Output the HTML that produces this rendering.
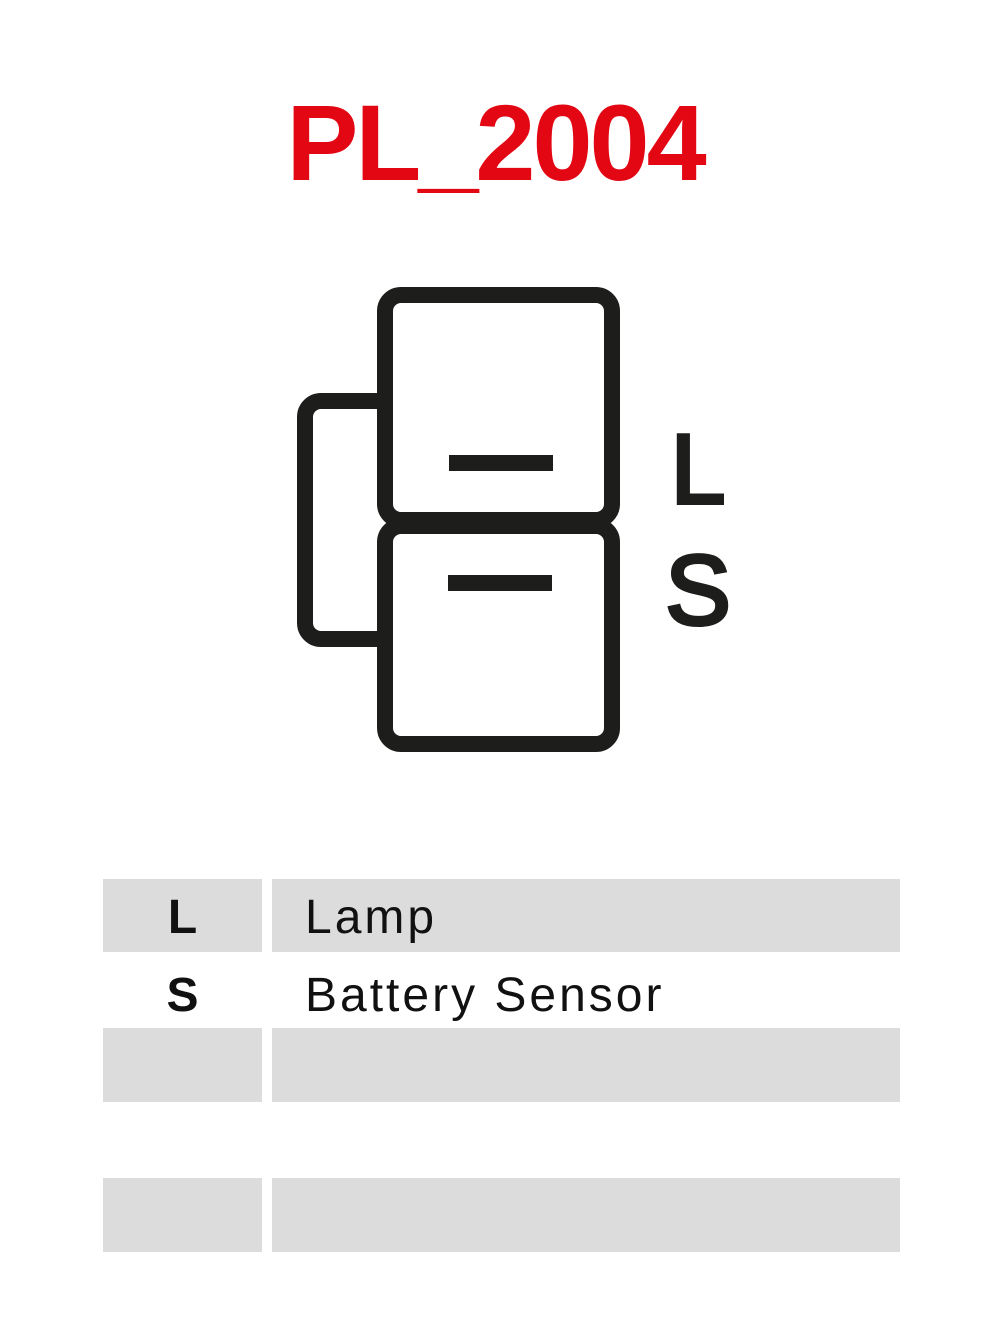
<!DOCTYPE html>
<html><head><style>
html,body{margin:0;padding:0;background:#fff;width:1000px;height:1333px;overflow:hidden;font-family:"Liberation Sans",sans-serif}
.t{position:absolute;left:0;width:990px;text-align:center;top:83px;font-size:108px;font-weight:bold;color:#e30613;line-height:120px;letter-spacing:-3px}
.c{position:absolute;background:#dcdcdc}
.k{position:absolute;width:159px;left:103px;text-align:center;font-weight:bold;font-size:48px;color:#111}
.v{position:absolute;left:305px;font-size:48px;color:#111;letter-spacing:3px}
</style></head><body>
<div class="t">PL_2004</div>
<svg width="1000" height="1333" style="position:absolute;left:0;top:0">
<rect x="305" y="401" width="90" height="238" rx="16" fill="#fff" stroke="#1d1d1b" stroke-width="16"/>
<rect x="385" y="295" width="227" height="225" rx="16" fill="#fff" stroke="#1d1d1b" stroke-width="16"/>
<rect x="385" y="526" width="227" height="218" rx="16" fill="#fff" stroke="#1d1d1b" stroke-width="16"/>
<rect x="449" y="455" width="104" height="16" fill="#1d1d1b"/>
<rect x="448" y="575" width="104" height="16" fill="#1d1d1b"/>
<text x="698" y="503" font-size="98" font-family="Liberation Sans" text-anchor="middle" fill="#1d1d1b" stroke="#1d1d1b" stroke-width="4">L</text>
<text x="698" y="624" font-size="98" font-family="Liberation Sans" text-anchor="middle" fill="#1d1d1b" stroke="#1d1d1b" stroke-width="4">S</text>
</svg>
<div class="c" style="left:103px;top:879px;width:159px;height:73px"></div>
<div class="c" style="left:272px;top:879px;width:628px;height:73px"></div>
<div class="c" style="left:103px;top:1028px;width:159px;height:74px"></div>
<div class="c" style="left:272px;top:1028px;width:628px;height:74px"></div>
<div class="c" style="left:103px;top:1178px;width:159px;height:74px"></div>
<div class="c" style="left:272px;top:1178px;width:628px;height:74px"></div>
<div class="k" style="top:890px">L</div>
<div class="v" style="top:890px">Lamp</div>
<div class="k" style="top:968px">S</div>
<div class="v" style="top:968px">Battery Sensor</div>
</body></html>
